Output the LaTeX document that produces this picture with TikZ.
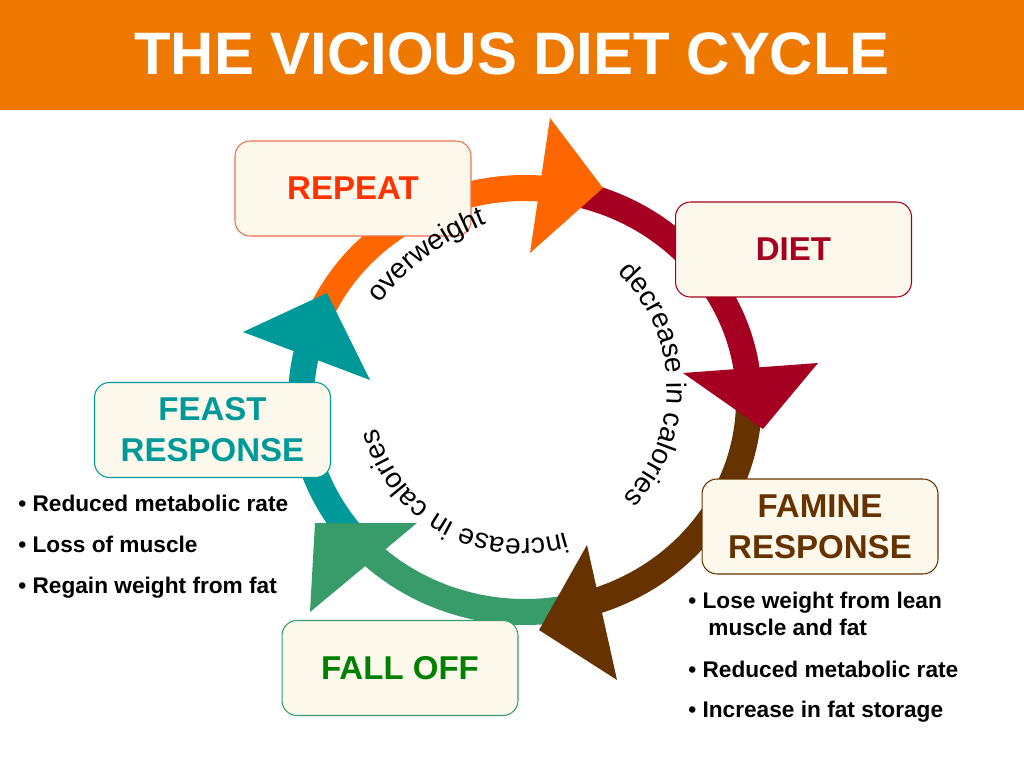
\documentclass[tikz,border=0pt]{standalone}
\usepackage{fontspec}
\setmainfont{Liberation Sans}
\usepackage{tikz}
\usetikzlibrary{decorations.text}

\definecolor{headorange}{RGB}{238,120,0}
\definecolor{ringorange}{RGB}{255,102,0}
\definecolor{ringred}{RGB}{165,0,33}
\definecolor{ringbrown}{RGB}{102,51,0}
\definecolor{ringgreen}{RGB}{56,155,106}
\definecolor{ringteal}{RGB}{0,153,153}
\definecolor{boxfill}{RGB}{252,249,236}
\definecolor{repeatred}{RGB}{255,51,0}
\definecolor{repeatline}{RGB}{240,110,80}
\definecolor{falloffgreen}{RGB}{0,128,0}

\tikzset{
    stagebox/.style 2 args={draw=#1, text=#2, line width=0.6pt, fill=boxfill,
        rounded corners=0.3cm, minimum width=4.72cm, minimum height=1.9cm,
        inner sep=0pt, align=center, font=\fontsize{18.8}{23.3}\selectfont\bfseries},
    band/.style={line width=0.52cm},
    bulletline/.style={anchor=base west, inner sep=0pt,
        font=\fontsize{12.9}{15}\selectfont\bfseries},
    arctext/.style={decorate, decoration={text along path, text align=center,
        text={|\fontsize{16}{19}\selectfont|#1}}}
}

\begin{document}
\begin{tikzpicture}[x=0.02cm, y=0.02cm]
    \useasboundingbox[fill=white] (0,0) rectangle (1024,768);
    \fill[headorange] (0,658) rectangle (1024,768);
    \node[text=white, font=\fontsize{34.1}{40}\selectfont\bfseries] (title) at (512,714) {THE VICIOUS DIET CYCLE};

    \coordinate (c) at (525,368);
    \begin{scope}[band]
        \draw[ringorange] (c) ++(164:224 and 212) arc[start angle=164, end angle=84, x radius=224, y radius=212];
        \draw[ringred] (c) ++(82:224 and 212) arc[start angle=82, end angle=6, x radius=224, y radius=212];
        \draw[ringbrown] (c) ++(5:224 and 212) arc[start angle=5, end angle=-74, x radius=224, y radius=212];
        \draw[ringgreen] (c) ++(-75:224 and 212) arc[start angle=-75, end angle=-136, x radius=224, y radius=212];
        \draw[ringteal] (c) ++(220:224 and 212) arc[start angle=220, end angle=165, x radius=224, y radius=212];
    \end{scope}
    \fill[ringorange] (550,650) -- (603,580) -- (530,515) -- cycle;
    \fill[ringred] (683,395) -- (818,405) -- (763,339) -- cycle;
    \fill[ringbrown] (587,223) -- (617,88) -- (539,138) -- cycle;
    \fill[ringgreen] (417,245) -- (310,156) -- (315,245) -- cycle;
    \fill[ringteal] (243,436) -- (327,475) -- (370,388) -- cycle;

    \node[stagebox={repeatline}{repeatred}] (repeat) at (353,579.5) {REPEAT};
    \node[stagebox={ringred}{ringred}] (diet) at (793.5,518.5) {DIET};
    \node[stagebox={ringbrown}{ringbrown}] (famine) at (820,241.5) {FAMINE\\RESPONSE};
    \node[stagebox={ringteal}{ringteal}] (feast) at (212.5,338) {FEAST\\RESPONSE};
    \node[stagebox={ringgreen}{falloffgreen}] (falloff) at (400,100) {FALL OFF};

    \path[arctext={overweight}] (577,311) ++(143.6:250) arc[start angle=143.6, end angle=109.7, radius=250];
    \path[arctext={decrease in calories}] (508,380) ++(46:159) arc[start angle=46, end angle=-43, radius=159];
    \path[arctext={increase in calories}] (522,379) ++(-73:150) arc[start angle=-73, end angle=-165, radius=150];

    \node[bulletline] (feast1) at (18,257) {• Reduced metabolic rate};
    \node[bulletline] (feast2) at (18,216) {• Loss of muscle};
    \node[bulletline] (feast3) at (18,175) {• Regain weight from fat};
    \node[bulletline] (famine1) at (688,160) {• Lose weight from lean};
    \node[bulletline] (famine1b) at (708,133) {muscle and fat};
    \node[bulletline] (famine2) at (688,91) {• Reduced metabolic rate};
    \node[bulletline] (famine3) at (688,51) {• Increase in fat storage};
\end{tikzpicture}
\end{document}
